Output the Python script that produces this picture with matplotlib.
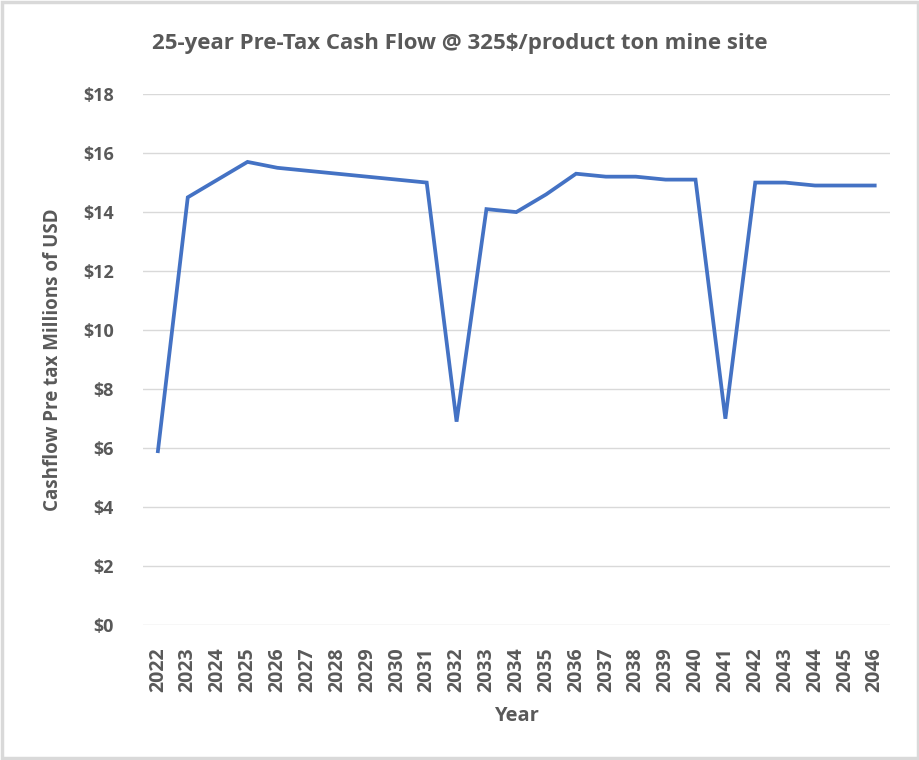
import matplotlib
matplotlib.use("Agg")
import matplotlib.pyplot as plt
from matplotlib.patches import Rectangle

years = [str(y) for y in range(2022, 2047)]
cashflow = [5.9, 14.5, 15.1, 15.7, 15.5, 15.4, 15.3, 15.2, 15.1, 15.0,
            6.9, 14.1, 14.0, 14.6, 15.3, 15.2, 15.2, 15.1, 15.1, 7.0,
            15.0, 15.0, 14.9, 14.9, 14.9]
yticks = [0, 2, 4, 6, 8, 10, 12, 14, 16, 18]
ytick_labels = ["$" + str(v) for v in yticks]

title = "25-year Pre-Tax Cash Flow @ 325$/product ton mine site"
xlabel = "Year"
ylabel = "Cashflow Pre tax Millions of USD"

gray = "#595959"
plt.rcParams['font.family'] = ['Open Sans', 'DejaVu Sans']

fig = plt.figure(figsize=(9.2, 7.6), dpi=100)
fig.patches.append(Rectangle((0.002, 0.002), 0.996, 0.996, transform=fig.transFigure,
                             fill=False, edgecolor="#D9D9D9", linewidth=2.5))

ax = fig.add_axes([0.1554, 0.1772, 0.8116, 0.6991])
x = list(range(len(years)))
ax.plot(x, cashflow, color="#4472C4", linewidth=2.7, solid_joinstyle="miter")

ax.set_xlim(-0.5, len(years) - 0.5)
ax.set_ylim(0, 18)
ax.set_yticks(yticks)
ax.set_yticklabels(ytick_labels)
ax.set_xticks(x)
ax.set_xticklabels(years, rotation=90)
ax.grid(axis="y", color="#D9D9D9", linewidth=1.0)
ax.set_axisbelow(True)
for s in ax.spines.values():
    s.set_visible(False)
ax.tick_params(axis="y", length=0, colors=gray, labelsize=13, pad=21)
ax.tick_params(axis="x", length=0, colors=gray, labelsize=14, pad=16)
for lbl in ax.get_xticklabels() + ax.get_yticklabels():
    lbl.set_fontweight("bold")
    lbl.set_color(gray)

ax.set_xlabel(xlabel, fontsize=14.5, fontweight="bold", color=gray, labelpad=10)
ax.set_ylabel(ylabel, fontsize=13.5, fontweight="bold", color=gray, labelpad=14)
fig.text(0.5, 0.943, title, ha="center", va="center", fontsize=16,
         fontweight="bold", color=gray)

fig.savefig("out.png", dpi=100)
